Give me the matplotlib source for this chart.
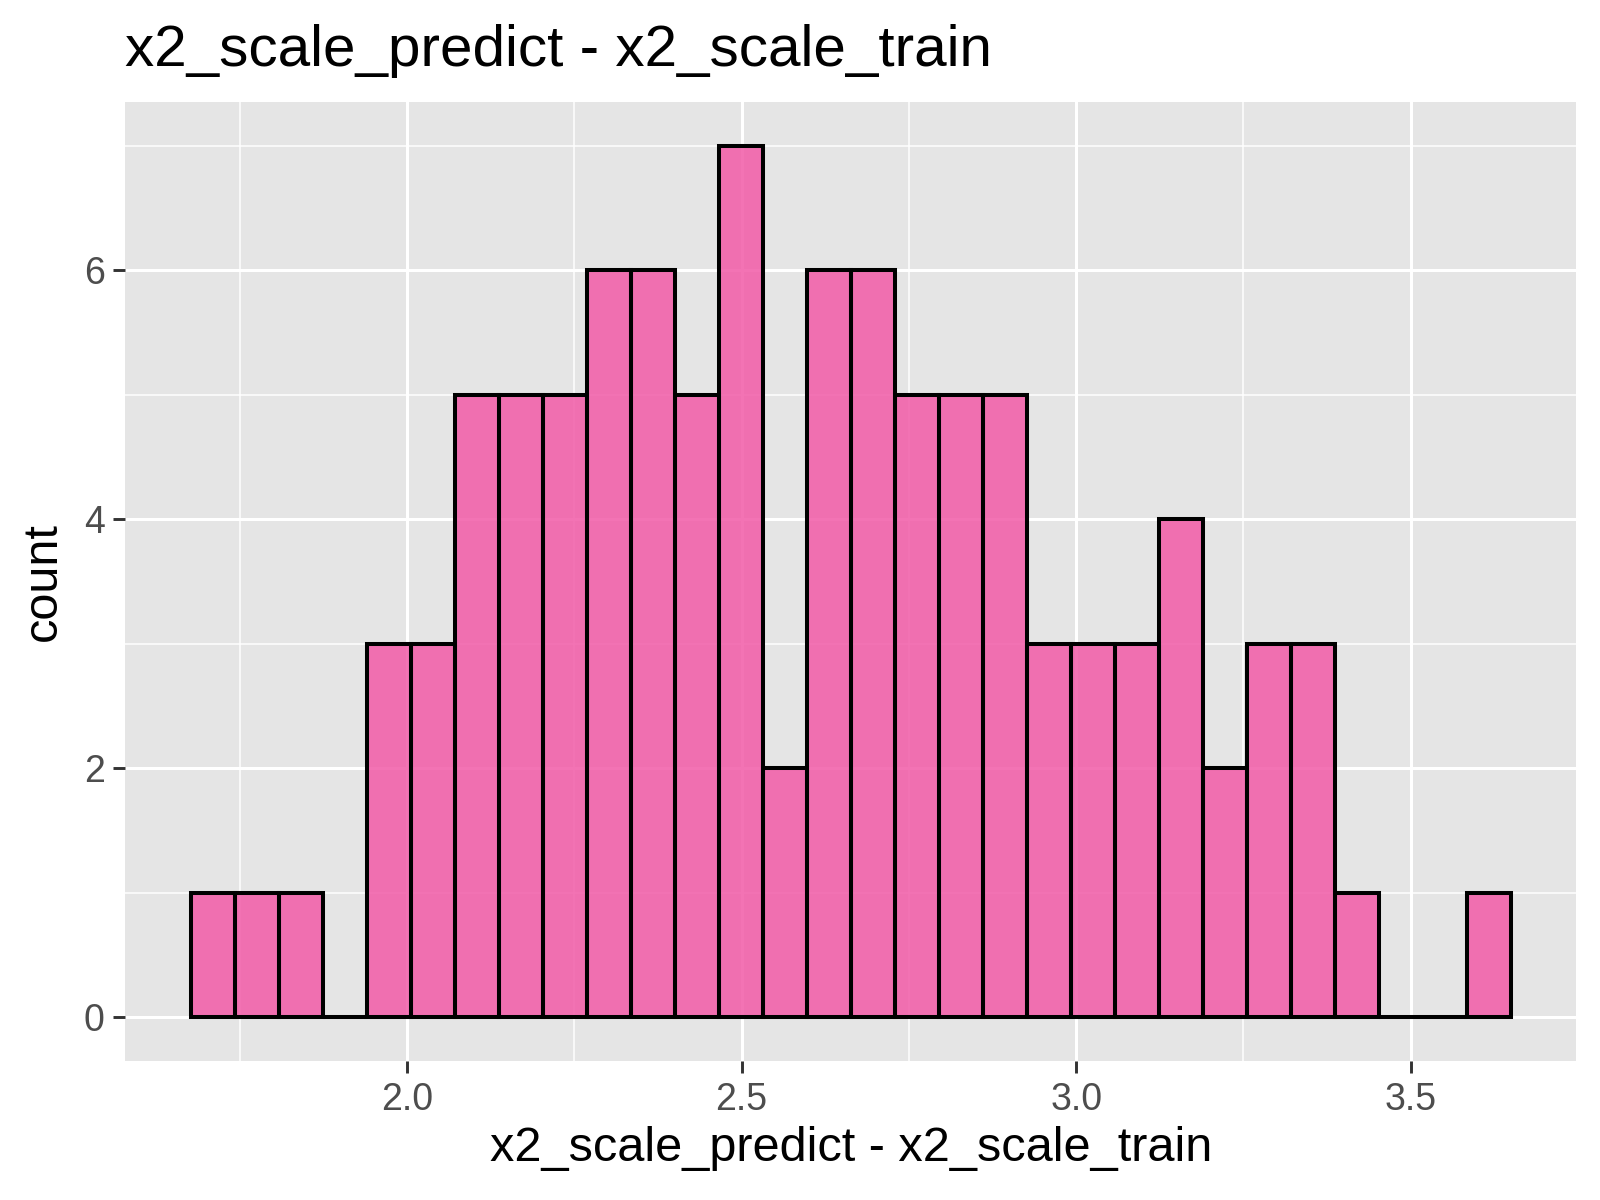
import numpy as np
import matplotlib
matplotlib.use("Agg")
import matplotlib.pyplot as plt
from matplotlib.ticker import FixedLocator

# histogram counts (30 bins)
counts = [1, 1, 1, 0, 3, 3, 5, 5, 5, 6, 6, 5, 7, 2, 6,
          6, 5, 5, 5, 3, 3, 3, 4, 2, 3, 3, 1, 0, 0, 1]
bin_start = 1.678
bin_width = 0.0657
x_ticks = [2.0, 2.5, 3.0, 3.5]
x_ticklabels = ["2.0", "2.5", "3.0", "3.5"]
y_ticks = [0, 2, 4, 6]
title = "x2_scale_predict - x2_scale_train"

plt.rcParams['font.family'] = ['Liberation Sans', 'DejaVu Sans']

fig = plt.figure(figsize=(16, 12), dpi=100)
ax = fig.add_axes([0.0784, 0.1158, 0.9853 - 0.0784, 0.915 - 0.1158])
ax.set_facecolor("#E5E5E5")

lefts = bin_start + bin_width * np.arange(len(counts))
ax.bar(lefts, counts, width=bin_width, align="edge",
       color="#F25BA7", alpha=0.85, linewidth=0, zorder=3)
# outline drawn opaque on top
ax.bar(lefts, counts, width=bin_width, align="edge",
       facecolor="none", edgecolor="black", linewidth=2.9, zorder=4)

x_lo = bin_start
x_hi = bin_start + bin_width * len(counts)
pad = (x_hi - x_lo) * 0.05
ax.set_xlim(x_lo - pad, x_hi + pad)
ax.set_ylim(-0.35, 7.35)

ax.xaxis.set_major_locator(FixedLocator(x_ticks))
ax.set_xticklabels(x_ticklabels)
ax.xaxis.set_minor_locator(FixedLocator([1.75, 2.25, 2.75, 3.25]))
ax.yaxis.set_major_locator(FixedLocator(y_ticks))
ax.yaxis.set_minor_locator(FixedLocator([1, 3, 5, 7]))

ax.grid(which="major", color="white", linewidth=2.2, zorder=1)
ax.grid(which="minor", color="white", linewidth=1.1, zorder=1)
ax.set_axisbelow(True)

for s in ax.spines.values():
    s.set_visible(False)

ax.tick_params(which="major", length=8.3, width=2.1, color="#333333",
               labelsize=27, labelcolor="#4D4D4D", pad=6.6)
ax.tick_params(which="minor", length=0)

ax.set_xlabel(title, fontsize=35, labelpad=6)
ax.set_ylabel("count", fontsize=35, labelpad=13)

fig.text(0.0784, 0.945, title, fontsize=42, va="baseline", ha="left")

fig.savefig("out.png", dpi=100, facecolor="white")
